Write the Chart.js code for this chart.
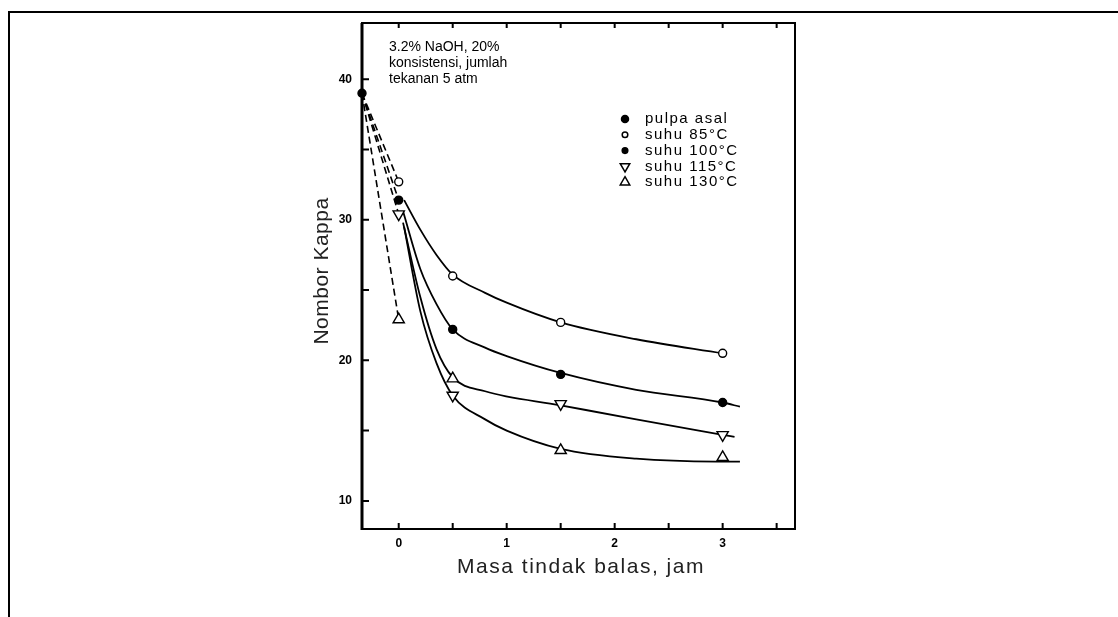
<!DOCTYPE html>
<html>
<head>
<meta charset="utf-8">
<script src="https://cdn.jsdelivr.net/npm/chart.js@4.4.0/dist/chart.umd.min.js"></script>
<style>
  html, body { margin: 0; padding: 0; background: #fff; }
  #wrap { position: relative; width: 1118px; height: 617px; overflow: hidden; }
  #frame { position: absolute; left: 8px; top: 11px; width: 1200px; height: 700px; border-top: 2px solid #000; border-left: 2px solid #000; }
  #c { position: absolute; left: 0; top: 0; }
</style>
</head>
<body>
<div id="wrap">
  <div id="frame"></div>
  <canvas id="c" width="1118" height="617"></canvas>
</div>
<script>
// ============ data ============
const HOURS = [0, 0.5, 1.5, 3];
const KAPPA_85  = [32.7, 26.0, 22.7, 20.5];
const KAPPA_100 = [31.4, 22.2, 19.0, 17.0];
const KAPPA_115 = [30.4, 18.7, 16.9, 14.7];
const KAPPA_130 = [22.9, 17.5, 13.6, 13.1];
// the figure swaps the two triangles at 0.5 h
const ROT_115 = [180, 0, 180, 180];
const ROT_130 = [0, 180, 0, 0];

const PULPA_X = [-0.34];
const PULPA_Y = [39.0];

// dashed lead-in lines (from the unbleached pulp to t = 0)
const DASH_X = [-0.34, 0];
const DASH_85_Y  = [39.0, 32.7];
const DASH_100_Y = [39.0, 31.4];
const DASH_115_Y = [39.0, 30.4];
const DASH_130_Y = [39.0, 22.9];

// solid curves as drawn in the figure
const CURVE_85_X  = [0.05, 0.2, 0.35, 0.5, 0.8, 1.0, 1.5, 2.2, 3.0];
const CURVE_85_Y  = [31.4, 29.3, 27.5, 26.1, 24.8, 24.1, 22.7, 21.5, 20.5];
const CURVE_100_X = [0.04, 0.2, 0.35, 0.5, 0.8, 1.0, 1.5, 2.2, 3.0, 3.16];
const CURVE_100_Y = [30.6, 26.5, 24.0, 22.2, 20.9, 20.3, 19.1, 17.9, 17.0, 16.7];
const CURVE_115_X = [0.04, 0.2, 0.35, 0.5, 0.8, 1.5, 2.2, 3.0, 3.11];
const CURVE_115_Y = [29.8, 24.5, 20.8, 18.8, 17.8, 16.8, 15.8, 14.7, 14.55];
const CURVE_130_X = [0.05, 0.2, 0.35, 0.5, 0.8, 1.0, 1.5, 2.2, 2.94, 3.16];
const CURVE_130_Y = [29.5, 23.5, 19.8, 17.5, 15.8, 15.0, 13.7, 13.0, 12.8, 12.8];

const X_TICKS = [0, 0.5, 1, 1.5, 2, 2.5, 3, 3.5];
const Y_TICKS = [10, 15, 20, 25, 30, 35, 40];

const NOTE = ['3.2% NaOH, 20%', 'konsistensi, jumlah', 'tekanan 5 atm'];
const LEGEND = ['pulpa asal', 'suhu 85°C', 'suhu 100°C', 'suhu 115°C', 'suhu 130°C'];
const X_TITLE = 'Masa tindak balas, jam';
const Y_TITLE = 'Nombor Kappa';

const FONT = "'Liberation Sans', Arial, sans-serif";

const pts = (xs, ys) => xs.map((x, i) => ({x: x, y: ys[i]}));

function dashSet(ys) {
  return {data: pts(DASH_X, ys), borderColor: '#000', borderWidth: 1.6, borderDash: [7, 4], pointRadius: 0, clip: false};
}
function curveSet(xs, ys) {
  return {data: pts(xs, ys), borderColor: '#000', borderWidth: 1.8, cubicInterpolationMode: 'monotone', pointRadius: 0, clip: false};
}
function markSet(xs, ys, style, radius, fill, rot) {
  return {data: pts(xs, ys), showLine: false, pointStyle: style, pointRadius: radius, pointRotation: rot || 0,
    pointBackgroundColor: fill, pointBorderColor: '#000', pointBorderWidth: 1.4, clip: false};
}

// ============ decorations: box, inward ticks, notes, legend, titles ============
const decor = {
  id: 'decor',
  afterDraw(chart) {
    const {ctx, chartArea: a, scales} = chart;
    const xs = scales.x, ys = scales.y;
    ctx.save();
    ctx.strokeStyle = '#000';
    ctx.lineWidth = 2;
    ctx.strokeRect(a.left, a.top, a.right - a.left, a.bottom - a.top);
    ctx.lineWidth = 3;
    ctx.beginPath(); ctx.moveTo(a.left, a.top); ctx.lineTo(a.left, a.bottom + 1); ctx.stroke();

    ctx.lineWidth = 2;
    ctx.beginPath();
    X_TICKS.forEach(v => {
      const px = xs.getPixelForValue(v);
      ctx.moveTo(px, a.bottom); ctx.lineTo(px, a.bottom - 6);
      ctx.moveTo(px, a.top); ctx.lineTo(px, a.top + 5);
    });
    Y_TICKS.forEach(v => {
      const py = ys.getPixelForValue(v);
      ctx.moveTo(a.left, py); ctx.lineTo(a.left + 7, py);
    });
    ctx.stroke();

    // condition note
    ctx.fillStyle = '#000';
    ctx.font = '14px ' + FONT;
    ctx.textBaseline = 'middle';
    ctx.textAlign = 'left';
    NOTE.forEach((t, i) => ctx.fillText(t, 389, 47 + i * 16));

    // legend
    const marks = [
      {pointStyle: 'circle', radius: 3.5, rotation: 0, fill: '#000'},
      {pointStyle: 'circle', radius: 2.8, rotation: 0, fill: '#fff'},
      {pointStyle: 'circle', radius: 2.8, rotation: 0, fill: '#000'},
      {pointStyle: 'triangle', radius: 5.5, rotation: 180, fill: '#fff'},
      {pointStyle: 'triangle', radius: 5.5, rotation: 0, fill: '#fff'}
    ];
    ctx.font = '15px ' + FONT;
    ctx.letterSpacing = '1.5px';
    LEGEND.forEach((t, i) => {
      const y = 119 + i * 15.8;
      ctx.fillStyle = marks[i].fill;
      ctx.lineWidth = 1.5;
      Chart.helpers.drawPoint(ctx, {pointStyle: marks[i].pointStyle, radius: marks[i].radius, rotation: marks[i].rotation, borderWidth: 1.5}, 625, y);
      ctx.fillStyle = '#000';
      ctx.fillText(t, 645, y);
    });

    // axis titles
    ctx.fillStyle = '#222';
    ctx.font = '21px ' + FONT;
    ctx.textAlign = 'center';
    ctx.letterSpacing = '1.5px';
    ctx.fillText(X_TITLE, 581, 567);
    ctx.letterSpacing = '0.5px';
    ctx.save();
    ctx.translate(322, 271);
    ctx.rotate(-Math.PI / 2);
    ctx.fillText(Y_TITLE, 0, 0);
    ctx.restore();
    ctx.restore();
  }
};

new Chart(document.getElementById('c'), {
  type: 'line',
  data: {
    datasets: [
      markSet(PULPA_X, PULPA_Y, 'circle', 4, '#000'),
      markSet(HOURS, KAPPA_85, 'circle', 4, '#fff'),
      markSet(HOURS, KAPPA_100, 'circle', 4, '#000'),
      markSet(HOURS, KAPPA_115, 'triangle', 6.5, '#fff', ROT_115),
      markSet(HOURS, KAPPA_130, 'triangle', 6.5, '#fff', ROT_130),
      curveSet(CURVE_85_X, CURVE_85_Y),
      curveSet(CURVE_100_X, CURVE_100_Y),
      curveSet(CURVE_115_X, CURVE_115_Y),
      curveSet(CURVE_130_X, CURVE_130_Y),
      dashSet(DASH_85_Y),
      dashSet(DASH_100_Y),
      dashSet(DASH_115_Y),
      dashSet(DASH_130_Y)
    ]
  },
  options: {
    responsive: false,
    devicePixelRatio: 1,
    animation: false,
    layout: {padding: {left: 322, right: 323, top: 23, bottom: 58}},
    plugins: {legend: {display: false}, tooltip: {enabled: false}},
    scales: {
      x: {
        type: 'linear', min: -0.34, max: 3.67,
        afterBuildTicks: s => { s.ticks = X_TICKS.map(v => ({value: v})); },
        afterFit: s => { s.height = 30; },
        grid: {display: false, drawTicks: false},
        border: {display: false},
        ticks: {autoSkip: false, maxRotation: 0, padding: 7, color: '#000', font: {family: FONT, size: 12, weight: 'bold'},
          callback: v => Number.isInteger(v) ? String(v) : ''}
      },
      y: {
        type: 'linear', min: 8, max: 44,
        afterBuildTicks: s => { s.ticks = Y_TICKS.map(v => ({value: v})); },
        afterFit: s => { s.width = 40; },
        grid: {display: false, drawTicks: false},
        border: {display: false},
        ticks: {autoSkip: false, padding: 10, color: '#000', font: {family: FONT, size: 12, weight: 'bold'},
          callback: v => v % 10 === 0 ? String(v) : ''}
      }
    }
  },
  plugins: [decor]
});
</script>
</body>
</html>
